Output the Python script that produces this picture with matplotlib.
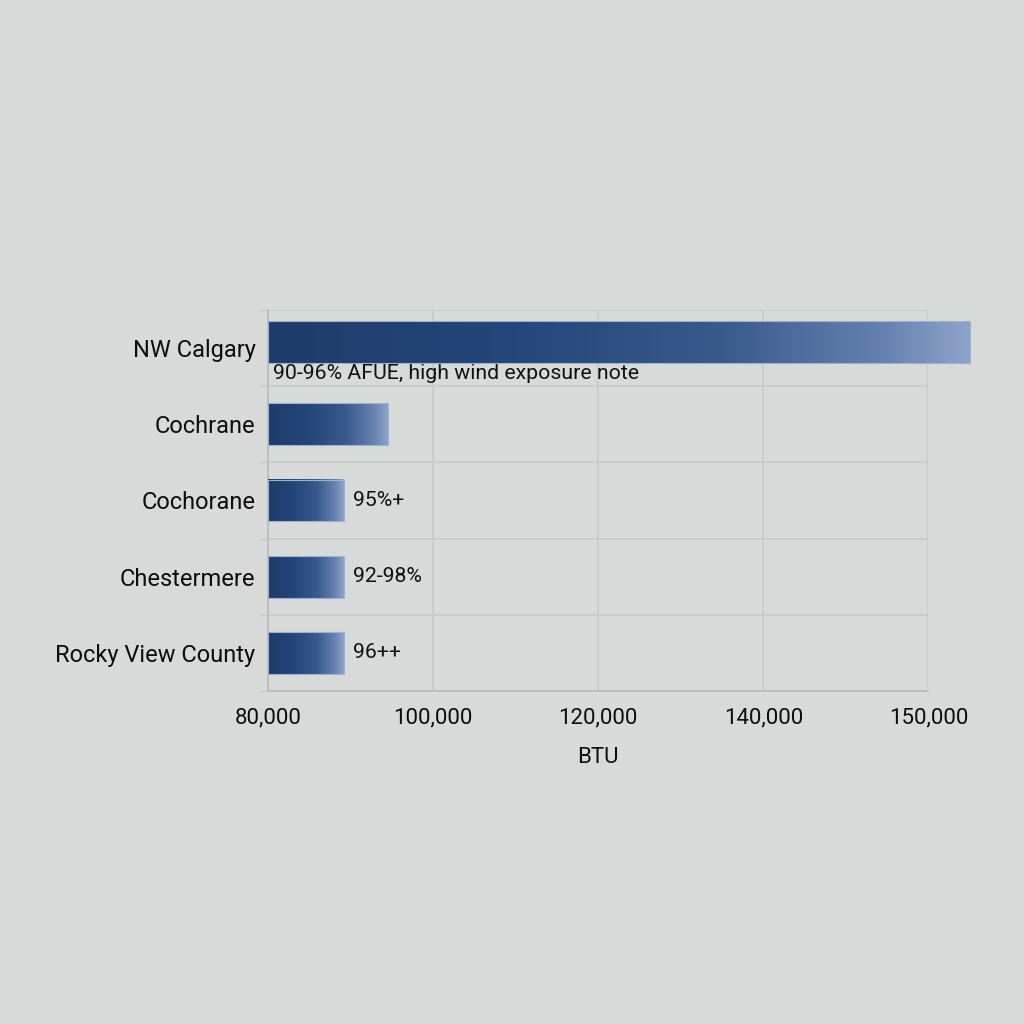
import matplotlib
matplotlib.use("Agg")
import matplotlib.pyplot as plt
import numpy as np
from matplotlib.colors import LinearSegmentedColormap

plt.rcParams["font.family"] = ["Roboto", "DejaVu Sans"]

# data
regions = ["NW Calgary", "Cochrane", "Cochorane", "Chestermere", "Rocky View County"]
btu = [165000, 94500, 89150, 89150, 89150]
notes = ["90-96% AFUE, high wind exposure note", "", "95%+", "92-98%", "96++"]
tick_vals = [80000, 100000, 120000, 140000, 160000]
tick_labels = ["80,000", "100,000", "120,000", "140,000", "150,000"]

BG = "#d8d9d9"
GRID = "#c8c9ca"
bar_cmap = LinearSegmentedColormap.from_list(
    "bar",
    [(0.0, "#1e3c6a"), (0.35, "#25467a"), (0.65, "#3a5a8c"),
     (0.88, "#6681b1"), (1.0, "#8ea3ca")],
)

fig = plt.figure(figsize=(10.24, 10.24), dpi=100, facecolor=BG)
ax = fig.add_axes([0.2617, 0.3252, 0.645, 0.3721], facecolor=BG)

x0 = tick_vals[0]
ax.set_xlim(x0, tick_vals[-1])
ax.set_ylim(len(regions) - 0.5, -0.5)

h = 0.55
grad = np.linspace(0, 1, 256)[None, :]
for i, (val, note) in enumerate(zip(btu, notes)):
    yc = i - 0.08 if i == 0 else i
    ax.imshow(grad, cmap=bar_cmap, aspect="auto", interpolation="bilinear",
              extent=[x0, val, yc + h / 2, yc - h / 2], clip_on=False, zorder=3)
    ax.add_patch(plt.Rectangle((x0, yc - h / 2), val - x0, h, fill=False,
                               edgecolor="#9fb1d0", linewidth=0.8,
                               clip_on=False, zorder=4))
    if i == 0:
        ax.text(x0 + 600, yc + h / 2 + 0.02, note, ha="left", va="top",
                fontsize=15.3, color="#111111", zorder=5)
    elif note:
        ax.text(val + 1200, yc, note, ha="left", va="center",
                fontsize=15.3, color="#111111", zorder=5)

ax.set_yticks(range(len(regions)))
ax.set_yticklabels(regions, fontsize=17, color="#0d0d0d")
ax.set_yticks(np.arange(-0.5, len(regions), 1.0), minor=True)
ax.tick_params(axis="y", which="major", length=0, pad=9)
ax.tick_params(axis="y", which="minor", length=6, color=GRID, width=1)

ax.set_xticks(tick_vals)
ax.set_xticklabels(tick_labels, fontsize=16, color="#0d0d0d")
ax.tick_params(axis="x", length=0, pad=12)
ax.set_xlabel("BTU", fontsize=16, color="#0d0d0d", labelpad=13)

ax.grid(axis="y", which="minor", color=GRID, linewidth=1.2, zorder=0)
ax.grid(axis="x", which="major", color=GRID, linewidth=1.2, zorder=0)
ax.set_axisbelow(True)

for s in ["top", "right"]:
    ax.spines[s].set_visible(False)
for s in ["left", "bottom"]:
    ax.spines[s].set_color("#b9babb")
    ax.spines[s].set_linewidth(1.2)

fig.savefig("out.png", dpi=100, facecolor=BG)
